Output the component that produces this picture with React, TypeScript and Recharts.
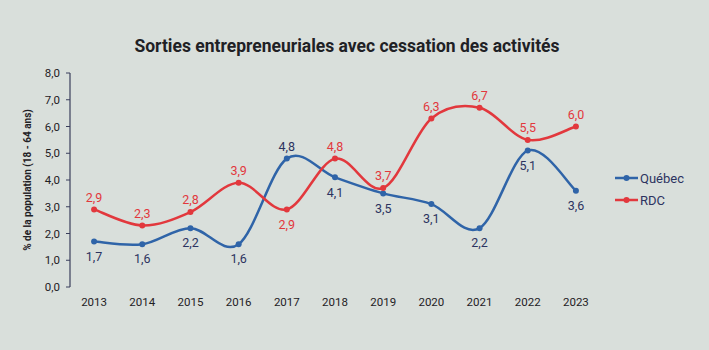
import React from "react";
import { LineChart, Line, XAxis, YAxis, LabelList } from "recharts";

const years = [2013, 2014, 2015, 2016, 2017, 2018, 2019, 2020, 2021, 2022, 2023];
const quebec = [1.7, 1.6, 2.2, 1.6, 4.8, 4.1, 3.5, 3.1, 2.2, 5.1, 3.6];
const rdc = [2.9, 2.3, 2.8, 3.9, 2.9, 4.8, 3.7, 6.3, 6.7, 5.5, 6.0];
const yTicks = [0, 1, 2, 3, 4, 5, 6, 7, 8];
const boundaryTicks = [2012.5, 2013.5, 2014.5, 2015.5, 2016.5, 2017.5, 2018.5, 2019.5, 2020.5, 2021.5, 2022.5, 2023.5];

const data = years.map((year, i) => ({ year, quebec: quebec[i], rdc: rdc[i] }));

const BLUE = "#2f64a8";
const RED = "#e2383d";
const NAVY = "#2c3360";
const BG = "#d9dfdb";
const FONT = "Roboto, sans-serif";

// smoothed line like a spreadsheet chart (Catmull-Rom)
function smooth(context: any) {
  let pts: number[][] = [];
  return {
    areaStart() {},
    areaEnd() {},
    lineStart() {
      pts = [];
    },
    point(x: number, y: number) {
      pts.push([+x, +y]);
    },
    lineEnd() {
      const n = pts.length;
      if (!n) return;
      context.moveTo(pts[0][0], pts[0][1]);
      for (let i = 0; i < n - 1; i++) {
        const p0 = pts[Math.max(i - 1, 0)];
        const p1 = pts[i];
        const p2 = pts[i + 1];
        const p3 = pts[Math.min(i + 2, n - 1)];
        context.bezierCurveTo(
          p1[0] + (p2[0] - p0[0]) / 6,
          p1[1] + (p2[1] - p0[1]) / 6,
          p2[0] - (p3[0] - p1[0]) / 6,
          p2[1] - (p3[1] - p1[1]) / 6,
          p2[0],
          p2[1]
        );
      }
    },
  };
}

const fmt = (v: number) => v.toFixed(1).replace(".", ",");

const makeLabel = (color: string, flip: (i: number) => boolean, below: boolean) => (props: any) => {
  const { x, y, value, index } = props;
  const down = flip(index) ? !below : below;
  return (
    <text
      x={x}
      y={down ? y + 16 : y - 11}
      textAnchor="middle"
      dominantBaseline="middle"
      fill={color}
      fontSize={12.5}
      fontFamily={FONT}
    >
      {fmt(value)}
    </text>
  );
};

const quebecLabel = makeLabel(NAVY, (i) => years[i] === 2017, true);
const rdcLabel = makeLabel(RED, (i) => years[i] === 2017, false);

function LegendRow({ color, text, top }: { color: string; text: string; top: number }) {
  return (
    <div style={{ position: "absolute", left: 615, top, display: "flex", alignItems: "center", height: 16 }}>
      <svg width={24} height={10}>
        <line x1={0} y1={5} x2={23} y2={5} stroke={color} strokeWidth={2.5} />
        <circle cx={11.5} cy={5} r={3} fill={color} />
      </svg>
      <span style={{ fontFamily: FONT, fontSize: 13, color: NAVY, marginLeft: 1 }}>{text}</span>
    </div>
  );
}

export default function App() {
  return (
    <div style={{ position: "relative", width: 709, height: 350, background: BG }}>
      <style>{`body{margin:0}`}</style>
      <div
        style={{
          position: "absolute",
          left: 0,
          width: 694,
          top: 36,
          textAlign: "center",
          fontFamily: FONT,
          fontWeight: 700,
          fontSize: 17.5,
          color: "#1f2125",
        }}
      >
        Sorties entrepreneuriales avec cessation des activités
      </div>
      <LineChart width={709} height={350} data={data} margin={{ top: 73, right: 109, bottom: 33, left: 0 }}>
        <XAxis
          xAxisId="grid"
          dataKey="year"
          type="number"
          domain={[2012.5, 2023.5]}
          ticks={boundaryTicks}
          tick={false}
          tickSize={5}
          height={0}
          stroke="#3a3f5c"
          axisLine={{ stroke: "#3a3f5c", strokeWidth: 1.2 }}
          allowDataOverflow
        />
        <XAxis
          xAxisId="labels"
          dataKey="year"
          type="number"
          domain={[2012.5, 2023.5]}
          ticks={years}
          interval={0}
          axisLine={false}
          tickLine={false}
          tickSize={0}
          tickMargin={11}
          height={30}
          tick={{ fill: "#1f2125", fontSize: 11.5, fontFamily: FONT }}
          allowDataOverflow
        />
        <YAxis
          domain={[0, 8]}
          ticks={yTicks}
          interval={0}
          width={70}
          tickSize={4}
          tickMargin={6}
          tickFormatter={fmt}
          stroke="#3a3f5c"
          axisLine={{ stroke: "#3a3f5c", strokeWidth: 1.2 }}
          tick={{ fill: "#1f2125", fontSize: 11.5, fontFamily: FONT }}
          label={{
            value: "% de la population (18 - 64 ans)",
            angle: -90,
            position: "insideLeft",
            offset: 27,
            style: { textAnchor: "middle", fill: "#1f2125", fontSize: 10, fontWeight: 700, fontFamily: FONT },
          }}
        />
        <Line
          xAxisId="grid"
          dataKey="quebec"
          type={smooth as any}
          stroke={BLUE}
          strokeWidth={2.5}
          dot={{ r: 3, fill: BLUE, stroke: BLUE, strokeWidth: 0 }}
          activeDot={false}
          isAnimationActive={false}
        >
          <LabelList dataKey="quebec" content={quebecLabel} />
        </Line>
        <Line
          xAxisId="grid"
          dataKey="rdc"
          type={smooth as any}
          stroke={RED}
          strokeWidth={2.5}
          dot={{ r: 3, fill: RED, stroke: RED, strokeWidth: 0 }}
          activeDot={false}
          isAnimationActive={false}
        >
          <LabelList dataKey="rdc" content={rdcLabel} />
        </Line>
      </LineChart>
      <LegendRow color={BLUE} text="Québec" top={170} />
      <LegendRow color={RED} text="RDC" top={192} />
    </div>
  );
}
